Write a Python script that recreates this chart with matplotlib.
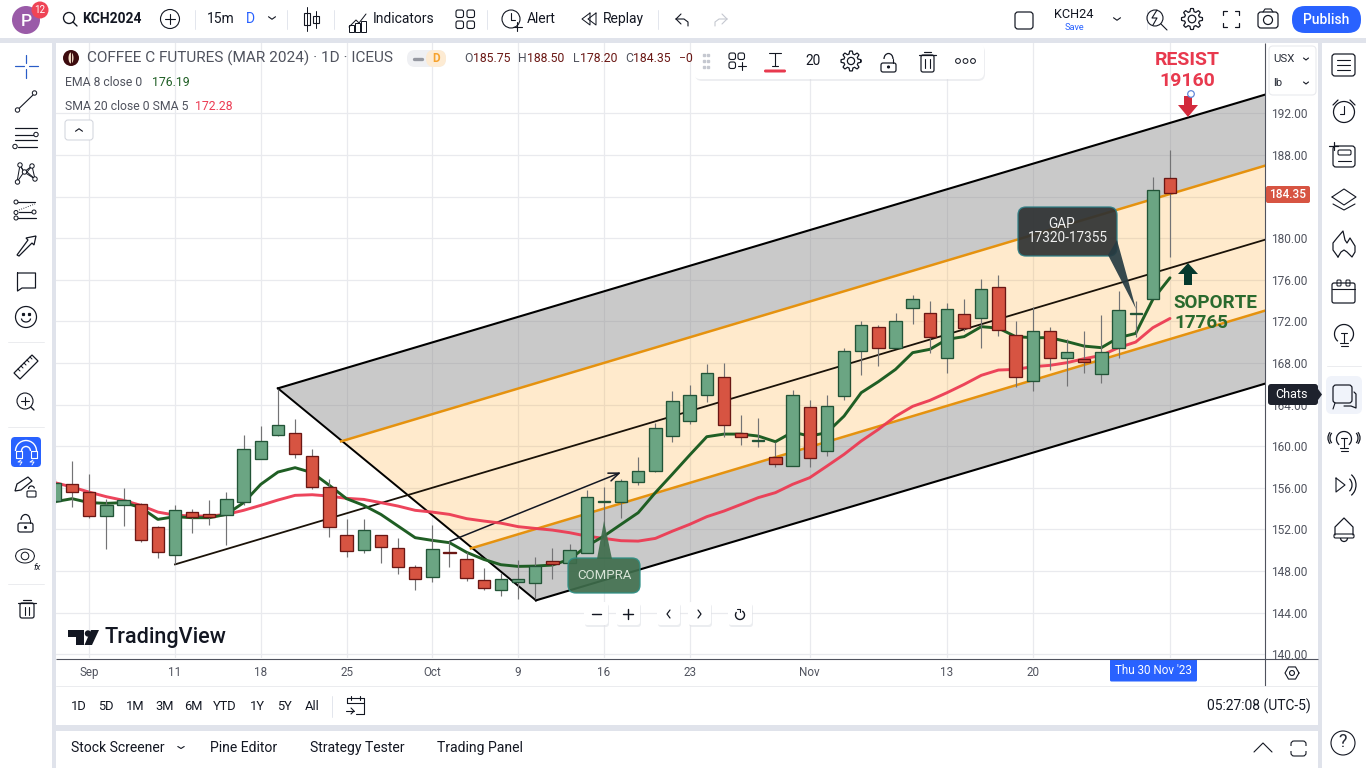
import numpy as np
import matplotlib
matplotlib.use("Agg")
import matplotlib.pyplot as plt
from matplotlib.patches import Rectangle, FancyBboxPatch, Polygon, Circle, Ellipse, Arc

plt.rcParams['font.family'] = ['Roboto', 'DejaVu Sans']

# ---------- data ----------
first_bar = -7
opens = [154.72,156.39,155.58,153.28,154.37,154.47,152.26,149.53,153.70,153.51,153.41,154.62,158.80,161.10,161.30,159.08,
         156.10,151.49,150.01,151.49,150.24,148.41,147.41,149.85,149.18,147.16,146.16,146.93,146.83,148.92,148.80,149.72,
         154.66,154.62,156.55,157.60,160.97,162.41,164.91,166.68,161.30,160.53,158.99,158.08,163.80,159.53,164.82,169.14,
         171.49,169.43,173.28,172.83,168.47,172.74,172.32,175.33,170.72,166.26,171.10,168.47,168.41,166.93,169.43,172.67,
         174.14,185.75]
highs = [156.80,158.54,157.35,154.88,155.94,154.50,152.29,154.37,153.99,154.79,155.56,161.10,161.90,165.53,162.64,159.69,
         156.81,153.03,153.03,151.50,151.20,148.60,152.38,150.87,149.79,148.32,147.83,149.05,149.37,150.24,150.62,155.75,
         156.10,156.81,158.92,162.19,165.27,165.91,167.86,168.03,163.03,162.67,160.39,165.36,164.47,164.88,169.47,172.03,
         171.68,172.83,174.50,173.99,173.73,174.11,176.10,176.42,172.07,173.41,171.49,170.33,171.04,172.58,174.95,173.92,
         185.91,188.50]
lows = [154.40,154.14,153.12,150.08,152.32,150.78,149.24,148.63,151.61,152.38,150.49,154.33,158.80,160.97,158.85,155.87,
        151.26,149.33,149.72,148.76,147.70,146.16,146.93,148.37,147.03,146.16,145.58,145.27,145.27,147.19,148.80,149.72,
        150.36,153.06,156.26,157.51,160.39,162.12,164.24,160.87,160.08,159.91,157.99,158.08,157.99,159.05,164.43,166.81,
        167.70,169.43,171.71,168.99,167.00,171.07,169.43,170.58,165.68,165.30,167.32,165.78,167.03,166.07,168.47,170.53,
        174.14,178.20]
closes = [156.42,155.58,153.28,154.37,154.82,150.97,149.82,153.89,153.22,153.18,154.95,159.76,160.53,162.07,159.24,156.07,
          152.22,149.91,151.97,150.30,148.37,147.22,150.14,149.76,147.32,146.35,147.26,147.26,148.47,148.63,150.05,155.14,
          154.76,156.68,157.64,161.78,164.37,164.95,167.07,162.03,160.87,160.62,158.28,164.95,158.89,163.89,169.18,171.68,
          169.43,172.07,174.18,170.49,173.22,171.35,175.14,171.20,166.64,171.10,168.47,169.08,168.08,169.08,173.12,172.77,
          184.66,184.35]
ema8 = [154.66,154.95,154.57,154.50,154.57,154.11,152.96,153.22,153.12,153.12,153.44,154.57,156.33,157.51,157.93,157.45,
        156.23,154.95,154.31,153.44,152.32,151.20,150.94,150.72,149.79,149.11,148.60,148.44,148.47,148.57,149.11,150.39,
        151.35,152.48,153.60,155.53,157.32,159.14,160.91,161.16,161.16,160.97,160.43,161.35,160.97,161.30,162.89,165.14,
        166.20,167.38,168.99,169.31,170.27,170.53,171.49,171.35,170.53,170.43,170.43,170.05,169.62,169.47,170.43,170.84,
        174.11,176.19]
sma20 = [156.49,156.07,155.58,155.14,154.79,154.31,153.66,153.37,153.28,153.28,153.44,153.83,154.31,154.82,155.27,155.33,
         155.20,154.98,154.88,154.57,154.24,153.83,153.66,153.44,153.03,152.80,152.60,152.26,152.09,151.93,151.68,151.35,
         151.13,150.91,150.87,151.13,151.83,152.48,153.22,153.76,154.40,155.05,155.53,156.33,156.97,158.08,159.21,160.49,
         161.61,162.86,163.83,164.40,165.14,165.94,166.81,167.32,167.38,167.64,167.77,168.03,168.41,168.73,169.47,170.01,
         171.39,172.28]
time_ticks = [-5, 0, 5, 10, 15, 20, 25, 30, 37, 45, 50, 58]
time_labels = ['Sep', '11', '18', '25', 'Oct', '9', '16', '23', 'Nov', '13', '20', '']
price_ticks = [140, 144, 148, 152, 156, 160, 164, 168, 172, 176, 180, 184, 188, 192]
price_labels = ['140.00', '144.00', '148.00', '152.00', '156.00', '160.00', '164.00', '168.00', '172.00',
                '176.00', '180.00', '', '188.00', '192.00']

# pitchfork anchors (bar, price)
fork_a = (0, 148.63)
fork_b = (6, 165.56)
fork_c = (21.04, 145.17)
right_bar = 63.6
top_end = 193.83
median_end = 179.88
bottom_end = 166.04
upper_in = (9.68, 160.46)
upper_end = 187.00
lower_in = (17.25, 150.17)
lower_end = 173.06
trend_arrow = ((16, 150.84), (26, 157.48))

GREEN, GREEN_E = '#6ba583', '#225437'
RED, RED_E = '#d75442', '#6b1714'
INK = '#131722'
GAP = '#e0e3eb'
GRID = '#e9eaee'
BAR_PX = 17.155
PRICE_PX = 10.4
PRICE_ZERO = 202.90

fig = plt.figure(figsize=(13.66, 7.68), dpi=100, facecolor='white')


def pix_axes(z):
    a = fig.add_axes([0, 0, 1, 1], zorder=z)
    a.set_xlim(0, 1366)
    a.set_ylim(768, 0)
    a.axis('off')
    a.patch.set_alpha(0)
    return a


bg = pix_axes(0)
for r in [(0, 38, 1366, 4.5), (52, 38, 4, 730), (1317.5, 38, 4.5, 730), (56, 725, 1262, 5.5), (0, 38, 1366, 4)]:
    bg.add_patch(Rectangle((r[0], r[1]), r[2], r[3], fc=GAP, ec='none'))

# ---------- chart ----------
ax = fig.add_axes([56 / 1366, 1 - 658 / 768, (1265 - 56) / 1366, (658 - 43) / 768], zorder=1)
ax.patch.set_alpha(0)
ax.set_xlim((56 - 175) / BAR_PX, (1265 - 175) / BAR_PX)
ax.set_ylim(PRICE_ZERO - 658 / PRICE_PX, PRICE_ZERO - 43 / PRICE_PX)
ax.set_xticks(time_ticks, time_labels)
ax.set_yticks(price_ticks, price_labels)
ax.yaxis.tick_right()
ax.tick_params(length=0, labelsize=8.6, labelcolor='#50535e', pad=4.5)
ax.tick_params(axis='x', pad=5.5, labelsize=8.4)
ax.grid(True, color=GRID, lw=0.9)
ax.set_axisbelow(True)
for s in ax.spines.values():
    s.set_visible(False)

grey_kw = dict(fc='#808080', alpha=0.42, ec='none', zorder=1)
ax.add_patch(Polygon([fork_b, (right_bar, top_end), (right_bar, upper_end), upper_in], **grey_kw))
ax.add_patch(Polygon([upper_in, (right_bar, upper_end), (right_bar, lower_end), lower_in],
                     fc='#ff9800', alpha=0.2, ec='none', zorder=1))
ax.add_patch(Polygon([lower_in, (right_bar, lower_end), (right_bar, bottom_end), fork_c], **grey_kw))

ax.plot([fork_b[0], right_bar], [fork_b[1], top_end], color='black', lw=1.5, zorder=2)
ax.plot([fork_c[0], right_bar], [fork_c[1], bottom_end], color='black', lw=1.5, zorder=2)
ax.plot([fork_b[0], fork_c[0]], [fork_b[1], fork_c[1]], color='black', lw=1.4, zorder=2)
ax.plot([fork_a[0], right_bar], [fork_a[1], median_end], color='#1a1208', lw=1.3, zorder=2)
ax.plot([upper_in[0], right_bar], [upper_in[1], upper_end], color='#e5920f', lw=1.8, zorder=2)
ax.plot([lower_in[0], right_bar], [lower_in[1], lower_end], color='#e5920f', lw=1.8, zorder=2)

ax.annotate('', xy=trend_arrow[1], xytext=trend_arrow[0], zorder=2,
            arrowprops=dict(arrowstyle='->,head_length=0.75,head_width=0.3', color='#131722', lw=1.1,
                            shrinkA=0, shrinkB=0))

bars = np.arange(first_bar, first_bar + len(opens))
o, h, l, c = map(np.array, (opens, highs, lows, closes))
up = c >= o
ax.plot(bars, sma20, color='#ec3b53', lw=2.1, alpha=0.95, zorder=2.5, solid_capstyle='round')
ax.plot(bars, ema8, color='#1f5e24', lw=2.1, zorder=2.6, solid_capstyle='round')
ax.vlines(bars, l, h, color='#737375', lw=0.85, zorder=3)
ax.bar(bars[up], (c - o)[up], bottom=o[up], width=0.72, color=GREEN, edgecolor=GREEN_E, lw=0.95, zorder=4)
ax.bar(bars[~up], (c - o)[~up], bottom=o[~up], width=0.72, color=RED, edgecolor=RED_E, lw=0.95, zorder=4)

# ---------- interface ----------
fg = pix_axes(2)


def T(x, y, s, size=10, color=INK, ha='left', va='center', **k):
    k.setdefault('zorder', 7)
    return fg.text(x, y, s, fontsize=size, color=color, ha=ha, va=va, **k)


def L(xs, ys, lw=1.0, c=INK, **k):
    k.setdefault('zorder', 4)
    fg.plot(xs, ys, color=c, lw=lw * 0.8, solid_capstyle=k.pop('cap', 'round'), **k)


def C(x, y, r, lw=1.0, ec=INK, fc='none', z=4):
    fg.add_patch(Circle((x, y), r, fc=fc, ec=ec, lw=lw * 0.8, zorder=z))


def R(x0, y0, x1, y1, fc='none', ec=INK, lw=1.0, rad=0, z=3, alpha=None):
    if rad:
        p = FancyBboxPatch((x0 + rad, y0 + rad), x1 - x0 - 2 * rad, y1 - y0 - 2 * rad,
                           boxstyle=f'round,pad={rad},rounding_size={rad}',
                           fc=fc, ec=ec, lw=lw * 0.8, zorder=z, alpha=alpha, mutation_aspect=1)
    else:
        p = Rectangle((x0, y0), x1 - x0, y1 - y0, fc=fc, ec=ec, lw=lw * 0.8, zorder=z, alpha=alpha)
    fg.add_patch(p)


def gear(x, y, r=10):
    a = np.linspace(0, 2 * np.pi, 97)
    rad = r * (0.86 + 0.14 * np.clip(3 * np.cos(8 * a), -1, 1))
    L(x + rad * np.cos(a), y + rad * np.sin(a), 1.1)
    C(x, y, r * 0.36, 1.1)


def hexagon(x, y, r):
    a = np.linspace(0, 2 * np.pi, 7)
    L(x + r * np.cos(a), y + r * np.sin(a), 1.0)
    C(x, y, r * 0.35, 1.0)


def chevron(x, y, w=3.5, h=2.5, c=INK, lw=1.0):
    L([x - w, x, x + w], [y - h / 2, y + h / 2, y - h / 2], lw, c)


def bulb(x, y, r=8.5):
    fg.add_patch(Arc((x, y), 2 * r, 2 * r, theta1=130, theta2=50, lw=0.9, ec=INK))
    L([x - 4, x + 4], [y + 9, y + 9], 1.0)
    L([x - 3.5, x + 3.5], [y + 12, y + 12], 1.0)
    L([x - 3, x + 3], [y - 1, y - 1], 1.0)
    L([x, x], [y - 1, y + 8], 1.0)


# --- top bar
C(26, 20, 14, 0, 'none', '#9a5ba8')
T(26, 21, 'P', 12.5, 'white', ha='center', fontweight='medium')
C(40, 10, 8.5, 0, 'none', '#ef4456', z=5)
T(40, 10, '12', 7, 'white', ha='center')
C(69, 18, 5.5, 1.2)
L([73, 77], [22, 26], 1.2)
T(82, 19, 'KCH2024', 10, fontweight='bold')
C(170, 19, 9.5, 1.0)
L([165, 175], [19, 19])
L([170, 170], [14, 24])
for sx in [195, 287, 334, 487, 658, 1147]:
    L([sx, sx], [10, 29], 0.8, '#e0e3eb')
T(207, 19, '15m', 10)
T(250, 19, 'D', 10, '#2962ff', ha='center')
chevron(272, 18)
L([307, 307], [7, 31], 0.9)
R(304, 13, 310, 25, lw=1)
L([316, 316], [11, 28], 0.9)
R(313, 16, 319, 23, lw=1)
L([349, 356, 359, 366], [27, 20, 23, 14], 0.9)
for bx, by in [(349, 25), (355, 23), (361, 21)]:
    R(bx, by, bx + 5, 32, lw=0.9)
T(373, 19, 'Indicators', 10)
for gx, gy in [(456, 10), (467, 10), (456, 21), (467, 21)]:
    R(gx, gy, gx + 7.5, gy + 7.5, lw=1, rad=2)
C(511, 19, 9, 1.0)
L([511, 511, 515], [13, 20, 20], 1.0)
L([517, 517], [22, 31], 1.0)
L([513, 522], [27, 27], 1.0)
T(527, 19, 'Alert', 10)
L([590, 582, 590, 590], [13, 19, 25, 13], 0.9)
L([596, 588, 596, 596], [13, 19, 25, 13], 0.9)
T(603, 19, 'Replay', 10)
L([676, 681], [19, 14], 1.0)
L([676, 684, 688, 688], [19, 19, 22, 26], 1.0)
L([676, 681], [19, 24], 1.0)
L([727, 722], [19, 14], 1.0, '#c5c8d0')
L([727, 722], [19, 24], 1.0, '#c5c8d0')
L([727, 719, 715, 715], [19, 19, 22, 26], 1.0, '#c5c8d0')
R(1015, 12, 1033, 29, lw=1.1, rad=3)
T(1074, 14, 'KCH24', 9.2, ha='center')
T(1074, 27, 'Save', 6.6, '#2962ff', ha='center')
chevron(1117, 19)
C(1155, 18, 8, 1.0)
L([1161, 1167], [24, 30], 1.0)
L([1157, 1152, 1157, 1153], [10, 18, 18, 25], 1.0)
gear(1192, 19, 10.5)
for sx, sy in [(-1, -1), (1, -1), (-1, 1), (1, 1)]:
    cx, cy = 1231 + sx * 8, 19 + sy * 8
    L([cx, cx, cx - sx * 4], [cy - sy * 4, cy, cy], 1.1)
R(1258, 12, 1278, 28, lw=1.1, rad=3)
C(1268, 20, 4.5, 1.1)
L([1263, 1265, 1271, 1273], [12, 9, 9, 12], 1.0)
R(1292, 6, 1361, 33, fc='#2962ff', ec='none', rad=13, lw=0)
T(1326.5, 20, 'Publish', 10, 'white', ha='center', fontweight='medium')

# --- legend
C(71, 58, 8, 0, 'none', '#3d0b0e')
fg.add_patch(Ellipse((71, 58), 5, 11, fc='#f1ddc6', ec='none', zorder=4))
L([71, 71], [52, 64], 1.0, '#3d0b0e', zorder=5)
T(87, 58.5, 'COFFEE C FUTURES (MAR 2024) · 1D · ICEUS', 11.1, '#50535e')
R(407, 50, 446, 67, fc='#eff0f3', ec='none', rad=8, lw=0)
R(426, 50, 446, 67, fc='#fdebd3', ec='none', rad=8, lw=0)
L([414, 422], [58.5, 58.5], 3, '#9598a1')
T(436, 58.5, 'D', 8.5, '#f7a32e', ha='center', fontweight='bold')
legend_vals = [(464, 'O', '185.75'), (518, 'H', '188.50'), (573, 'L', '178.20'), (625, 'C', '184.35')]
for lx, key, val in legend_vals:
    T(lx, 58.5, key, 8.8, '#50535e')
    T(lx + {'O': 9, 'H': 9, 'L': 7, 'C': 8}[key], 58.5, val, 8.8, RED_E)
T(679, 58.5, '−0', 8.8, RED_E)
T(65, 83, 'EMA 8 close 0', 8.8, '#50535e')
T(152, 83, '176.19', 8.8, '#1f5e24')
T(65, 106, 'SMA 20 close 0 SMA 5', 8.8, '#50535e')
T(195, 106, '172.28', 8.8, '#ec3b53')
R(65, 120, 93, 140, fc='white', ec='#d1d4dc', rad=3, lw=0.9)
chevron(79, 130, 3.5, -2.5)

# --- floating drawing toolbar
R(695, 45, 985, 81, fc='#d8dae0', ec='none', rad=7, lw=0, z=3, alpha=0.45)
R(694, 43, 984, 79, fc='white', ec='none', rad=6, lw=0, z=3)
for dx in [704, 708]:
    for dy in [55, 61, 67]:
        fg.plot(dx, dy, 's', ms=1.6, color='#c5c8d0', zorder=4)
for gx, gy in [(729, 53), (738, 53), (729, 62)]:
    R(gx, gy, gx + 6.5, gy + 6.5, lw=1, rad=2, z=4)
L([738, 746], [65.5, 65.5], 1.0)
L([742, 742], [61.5, 69.5], 1.0)
L([769, 781], [53, 53], 1.0)
L([775, 775], [53, 66], 1.0)
L([772, 778], [66, 66], 1.0)
R(764, 69.5, 786, 72.5, fc='#e8394e', ec='none', rad=1.5, lw=0, z=4)
T(813, 61, '20', 9.8, ha='center')
gear(851, 61, 10)
R(881, 63, 896, 72, lw=1.1, rad=2, z=4)
C(888.5, 67, 1.0, 1.0, INK, INK, z=5)
fg.add_patch(Arc((888.5, 59), 9, 11, theta1=180, theta2=360, lw=0.9, ec=INK))
L([893, 893], [59, 63], 1.0)
R(921, 55, 934, 72, lw=1.1, rad=2, z=4)
L([919, 936], [55, 55], 1.1)
L([924, 931], [52, 52], 1.1)
L([925, 925], [59, 68], 1.0)
L([930, 930], [59, 68], 1.0)
for ox in [958, 965.5, 973]:
    C(ox, 61, 2.4, 0.9, z=4)

# --- annotations
R(568, 558, 640, 593, fc='#3f6d4c', ec='#2e8f85', rad=8, lw=1.2, z=3, alpha=0.92)
fg.add_patch(Polygon([(597, 559), (604, 521), (612, 559)], fc='#3f6d4c', ec='none', alpha=0.92, zorder=3))
T(604, 575.5, 'COMPRA', 9.5, '#d9e5d8', ha='center')
R(1018, 207, 1117, 256, fc='#2e3132', ec='#2e7f86', rad=8, lw=1.2, z=3, alpha=0.92)
fg.add_patch(Polygon([(1108, 255), (1136, 309), (1117, 240)], fc='#263b42', ec='none', alpha=0.92, zorder=3))
T(1062, 224, 'GAP', 9.8, '#f0f0f0', ha='center')
T(1068, 238.5, '17320-17355', 9.8, '#f0f0f0', ha='center')
T(1187, 60, 'RESIST', 14, '#e8394e', ha='center', fontweight='bold')
T(1187, 81, '19160', 14, '#e8394e', ha='center', fontweight='bold')
fg.add_patch(Polygon([(1184, 96), (1192, 96), (1192, 105), (1198, 105), (1188, 117), (1178, 105), (1184, 105)],
                     fc='#d32a3c', ec='none', zorder=5))
C(1191, 94, 3.3, 1.1, '#5e86d8', 'white', z=6)
fg.add_patch(Polygon([(1184, 285), (1192, 285), (1192, 274), (1198, 274), (1188, 263), (1178, 274), (1184, 274)],
                     fc='#05392d', ec='none', zorder=5))
T(1173, 303, 'SOPORTE', 13.6, '#2a6a2e', fontweight='bold')
T(1174, 323, '17765', 13.6, '#2a6a2e', fontweight='bold')

# --- price / time scale furniture
L([1265, 1265], [43, 686], 1.0, '#50535e', cap='butt')
L([56, 1317.5], [658.5, 658.5], 1.0, '#50535e', cap='butt')
R(1269, 46, 1316, 95, fc='white', ec='#e9eaee', rad=4, lw=1)
T(1273, 59, 'USX', 8.2, '#2a2e39')
T(1273, 83, 'lb', 8.2, '#2a2e39')
chevron(1306, 59, 2.5, 2)
chevron(1306, 83, 2.5, 2)
R(1266, 186, 1310, 203, fc=RED, ec='none', rad=2, lw=0)
T(1288, 194.5, '184.35', 8.6, 'white', ha='center', fontweight='medium')
R(1268, 384, 1318, 405, fc='#1e222d', ec='none', rad=3, lw=0, z=5)
fg.add_patch(Polygon([(1318, 389), (1322, 394.5), (1318, 400)], fc='#1e222d', ec='none', zorder=5))
T(1292, 394.5, 'Chats', 9, 'white', ha='center')
hexagon(1292, 673, 7)
R(1110, 659, 1197, 681.5, fc='#2962ff', ec='none', rad=1.5, lw=0)
T(1153.5, 671, "Thu 30 Nov '23", 8.4, 'white', ha='center')
L([56, 1317], [686, 686], 0.8, '#e9eaee')

# --- right toolbar
R(1332, 54, 1355, 76, lw=1.1, rad=3)
for ly in [60, 65, 70]:
    L([1337, 1350], [ly, ly], 1.0)
C(1344, 112, 10.5, 1.1)
L([1344, 1344, 1340], [106, 114, 114], 1.0)
L([1333, 1338], [105, 100], 1.1)
L([1350, 1355], [100, 105], 1.1)
R(1333, 146, 1355, 167, lw=1.1, rad=3)
L([1329, 1338], [146, 146], 1.1)
L([1333.5, 1333.5], [142, 150], 1.1)
R(1338, 150, 1351, 155, lw=1, rad=1.5)
L([1338, 1351], [161, 161], 1.0)
L([1332, 1344, 1356, 1344, 1332], [197, 189, 197, 205, 197], 1.0)
L([1333, 1344, 1355], [204, 210, 204], 1.0)
L([1338, 1333, 1333, 1337, 1343, 1345, 1347, 1350, 1355, 1355, 1352, 1347, 1344, 1341, 1338],
  [257, 250, 243, 238, 231, 240, 243, 238, 246, 252, 257, 252, 250, 252, 257], 1.1)
R(1332, 283, 1355, 303, lw=1.1, rad=2)
L([1332, 1355], [289, 289], 1.0)
R(1337, 280, 1341, 286, lw=0.9, rad=1)
R(1346, 280, 1350, 286, lw=0.9, rad=1)
bulb(1344, 334, 9.5)
L([1327, 1361], [366, 366], 0.8, '#e9eaee')
R(1326, 376, 1362, 414, fc='#f0f3fa', ec='none', rad=6, lw=0, z=2)
R(1333, 385, 1352, 403, lw=1.1, rad=3)
L([1335, 1333], [403, 409], 1.0)
L([1354, 1356, 1356, 1351, 1344], [392, 394, 408, 406, 406], 1.1)
bulb(1344, 439, 7.5)
for sgn in (-1, 1):
    fg.add_patch(Arc((1344 + sgn * 8, 438), 12, 14,
                     theta1=(130 if sgn < 0 else -50), theta2=(230 if sgn < 0 else 50), lw=0.9, ec=INK))
    fg.add_patch(Arc((1344 + sgn * 7, 438), 18, 18,
                     theta1=(140 if sgn < 0 else -40), theta2=(220 if sgn < 0 else 40), lw=0.9, ec=INK))
L([1336, 1345, 1336, 1336], [478, 485, 492, 478], 1.0)
fg.add_patch(Arc((1345, 485), 14, 16, theta1=-55, theta2=55, lw=0.9, ec=INK))
fg.add_patch(Arc((1344, 485), 24, 26, theta1=-55, theta2=55, lw=0.9, ec=INK))
L([1335, 1335, 1340, 1344, 1348, 1353, 1353], [535, 527, 522, 518, 522, 527, 535], 1.1)
R(1334, 534, 1354, 538, lw=1, rad=1.5)
fg.add_patch(Arc((1344, 538), 7, 7, theta1=0, theta2=180, lw=0.9, ec=INK))
C(1343, 743, 12, 1.0)
T(1343, 742, '?', 13, ha='center', color='#2a2e39')

# --- left toolbar
L([15, 24], [66, 66], 1.1, '#2a5cc7')
L([29, 38], [66, 66], 1.1, '#2a5cc7')
L([26, 26], [55, 63], 1.1, '#2a5cc7')
L([26, 26], [69, 78], 1.1, '#2a5cc7')
L([19, 33], [108.5, 95], 1.0)
C(17.5, 110, 2.2, 0.9, fc='white', z=5)
C(34.5, 93, 2.2, 0.9, fc='white', z=5)
L([15, 37], [128, 128], 1.1)
L([15, 34], [134.5, 134.5], 1.1)
L([15, 37], [140, 140], 1.1)
L([18, 37], [146.5, 146.5], 1.1)
C(36, 134.5, 2.2, 0.9, fc='white', z=5)
C(15, 146.5, 2.2, 0.9, fc='white', z=5)
L([17, 20, 24, 32, 35, 24, 17], [182, 165, 172, 166, 179, 172, 182], 0.9)
L([20, 24], [165, 172], 0.9)
L([32, 27, 35], [166, 172, 179], 0.9)
for px, py in [(20, 165), (32, 166), (24.5, 172), (17.5, 182), (35, 179)]:
    C(px, py, 2.2, 0.9, fc='white', z=5)
L([15, 35], [202, 202], 1.1)
L([15, 36], [218, 218], 1.1)
L([19, 32], [212, 212], 1.1)
L([19, 35], [210, 204], 0.8, ls=':')
for px, py in [(16, 202), (16, 212.5), (34, 212), (16, 218)]:
    C(px, py, 2.0, 0.9, fc='white', z=5)
fg.add_patch(Polygon([(17, 255), (28, 240), (26, 238), (36, 236), (34, 245), (32, 243), (19, 256)],
                     fc='none', ec=INK, lw=0.9))
L([17.5, 35.5, 35.5, 22, 17.5, 17.5], [273, 273, 288, 288, 291, 273], 1.1)
C(26, 317, 10.5, 1.1)
fg.plot([23, 29], [314, 314], 's', ms=1.3, color=INK)
fg.add_patch(Arc((26, 318.5), 9, 7, theta1=0, theta2=180, lw=0.9, ec=INK))
L([8, 44], [342, 342], 0.8, '#e9eaee')
fg.add_patch(Polygon([(14, 373), (32, 355), (38, 361), (20, 379)], fc='none', ec=INK, lw=0.9))
for k_ in range(5):
    L([18 + 3 * k_, 20 + 3 * k_], [369 - 3 * k_, 371 - 3 * k_], 0.9)
C(25, 401, 8, 1.0)
L([31, 34], [407, 410], 1.2)
L([21, 29], [401, 401], 1.0)
L([25, 25], [397, 405], 1.0)
L([8, 44], [427, 427], 0.8, '#e9eaee')
R(11, 437, 41, 467, fc='#2962ff', ec='none', rad=4, lw=0)
fg.add_patch(Arc((26, 451), 21, 21, theta1=180, theta2=360, lw=1.0, ec='white', zorder=5))
fg.add_patch(Arc((26, 451), 9, 9, theta1=180, theta2=360, lw=1.0, ec='white', zorder=5))
L([15.5, 15.5, 21.5, 21.5, 15.5], [451, 458, 458, 451, 451], 1.0, 'white', zorder=5)
L([30.5, 30.5, 36.5, 36.5, 30.5], [451, 458, 458, 451, 451], 1.0, 'white', zorder=5)
L([21, 18, 22, 20], [460, 462, 462, 465], 0.8, 'white', zorder=5)
L([33, 30, 34, 32], [460, 462, 462, 465], 0.8, 'white', zorder=5)
fg.add_patch(Polygon([(15, 491), (17, 484), (28, 477), (32, 481), (21, 490)], fc='none', ec=INK, lw=0.9))
R(27, 491, 36, 497, fc='white', lw=1.0, rad=1, z=4)
fg.add_patch(Arc((31.5, 489), 6, 6, theta1=180, theta2=350, lw=0.9, ec=INK))
R(18, 523, 33, 532, lw=1.1, rad=2)
C(25.5, 527.5, 1.0, 1.0, fc=INK)
fg.add_patch(Arc((25.5, 520), 9, 11, theta1=180, theta2=360, lw=0.9, ec=INK))
L([30, 30], [520, 523], 1.0)
e_x = np.linspace(15.5, 34.5, 25)
L(e_x, 556 - 7 * np.sqrt(np.clip(1 - ((e_x - 25) / 9.5) ** 2, 0, 1)), 0.9)
L(e_x, 556 + 7 * np.sqrt(np.clip(1 - ((e_x - 25) / 9.5) ** 2, 0, 1)), 0.9)
C(25, 556, 3.8, 0.9)
T(33, 568, 'fx', 6.5, style='italic')
L([8, 44], [584, 584], 0.8, '#e9eaee')
R(20, 603, 34, 618, lw=1.1, rad=2)
L([18, 36], [603, 603], 1.1)
L([23, 31], [600, 600], 1.1)
L([25, 25], [607, 615], 1.0)
L([29, 29], [607, 615], 1.0)

# --- zoom buttons
for bx0, bx1 in [(584, 608), (616, 640), (657, 680), (688, 711), (728, 752)]:
    R(bx0 + 1, 604, bx1 + 1, 627, fc='#dfe1e6', ec='none', rad=3, lw=0, alpha=0.6)
    R(bx0, 602, bx1, 625, fc='white', ec='none', rad=3, lw=0)
L([592, 601], [614, 614], 1.3, zorder=5)
L([623, 633], [614, 614], 1.3, zorder=5)
L([628, 628], [609, 619], 1.3, zorder=5)
L([670, 667, 670], [610, 614, 618], 1.1, zorder=5)
L([698, 701, 698], [610, 614, 618], 1.1, zorder=5)
fg.add_patch(Arc((740, 615), 9, 9, theta1=-60, theta2=220, lw=1.0, ec=INK, zorder=5))
L([737, 740, 740], [609, 609, 612], 1.0, zorder=5)

# --- logo
fg.add_patch(Polygon([(68, 630), (84, 630), (84, 645), (76, 645), (76, 637), (68, 637)], fc='#131722', ec='none'))
C(88, 633.5, 3.2, 0, 'none', '#131722')
fg.add_patch(Polygon([(91, 630), (99, 630), (92, 645), (84.5, 645)], fc='#131722', ec='none'))
T(104.5, 637.5, 'TradingView', 15.6, '#131722', fontweight='medium')

# --- bottom bars
for bx, lab in [(71, '1D'), (98, '5D'), (126, '1M'), (155, '3M'), (184, '6M'), (213, 'YTD'), (250, '1Y'), (277, '5Y'), (305, 'All')]:
    T(bx, 706, lab, 9.3)
L([332, 332], [696, 717], 0.8, '#e0e3eb')
L([347, 347], [703, 698], 1)
L([347, 364, 364], [698, 698, 714], 1)
L([364, 356], [714, 714], 1)
L([347, 364], [703, 703], 1)
L([351, 351], [696, 700], 1)
L([360, 360], [696, 700], 1)
L([346, 354], [711, 711], 1)
L([351, 354, 351], [708, 711, 714], 1)
T(1311, 706, '05:27:08 (UTC-5)', 10, '#131722', ha='right')
T(71, 748, 'Stock Screener', 10.1)
chevron(181, 747.5, 3.2, 2)
T(210, 748, 'Pine Editor', 10.1)
T(310, 748, 'Strategy Tester', 10.1)
T(437, 748, 'Trading Panel', 10.1)
L([1254, 1263, 1272], [752, 743, 752], 1.0)
R(1291, 741, 1306, 756, lw=1.0, rad=3, ec=INK)
fg.add_patch(Rectangle((1288, 746), 20, 5, fc='white', ec='none', zorder=4))

for p in fg.patches:
    if isinstance(p, Arc) or (isinstance(p, Polygon) and p.get_facecolor()[3] == 0):
        p.set_zorder(6)

fig.savefig('out.png', dpi=100, facecolor='white')
